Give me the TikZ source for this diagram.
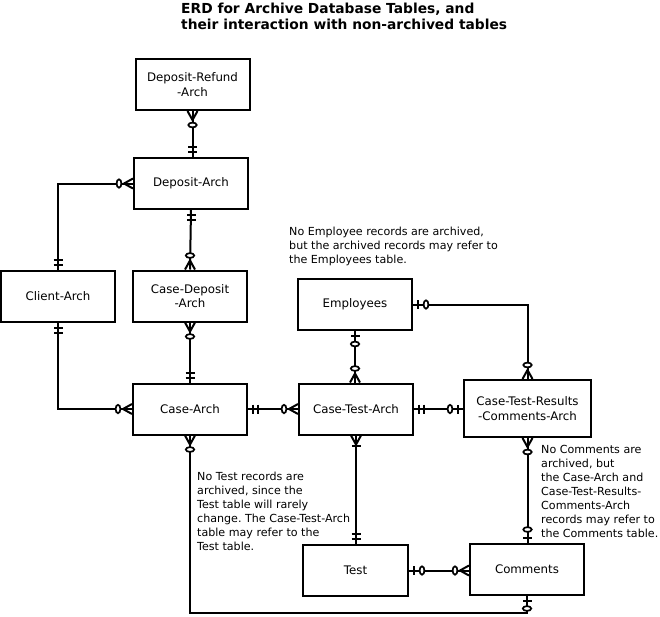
\documentclass[tikz,border=0pt]{standalone}
\usepackage{fontspec}
\setmainfont{DejaVu Sans}
\frenchspacing
\newcommand\erdCrow[2]{\begin{scope}[shift={(#1)},rotate=#2]\draw[conn] (0pt,5pt) -- (9pt,0pt) -- (0pt,-5pt);\end{scope}}
\newcommand\erdCirc[3]{\begin{scope}[shift={(#1)},rotate=#2]\draw[line width=1.7pt,fill=white] (#3pt,0pt) ellipse [x radius=2.4pt, y radius=4.2pt];\end{scope}}
\newcommand\erdBar[3]{\begin{scope}[shift={(#1)},rotate=#2]\draw[conn] (#3pt,4.5pt) -- (#3pt,-4.5pt);\end{scope}}
\newcommand\erdZM[2]{\erdCrow{#1}{#2}\erdCirc{#1}{#2}{14}}
\newcommand\erdOM[2]{\erdCrow{#1}{#2}\erdBar{#1}{#2}{10}}
\newcommand\erdOO[2]{\erdBar{#1}{#2}{5}\erdBar{#1}{#2}{10}}
\newcommand\erdZO[2]{\erdBar{#1}{#2}{5}\erdCirc{#1}{#2}{13}}
\begin{document}
\begin{tikzpicture}[x=1pt,y=-1pt,
  ent/.style={draw, line width=2pt, minimum width=114pt, minimum height=51pt, inner sep=0pt, align=center, font=\fontsize{11.8}{14.5}\selectfont},
  conn/.style={line width=2pt},
  note/.style={anchor=north west, align=left, inner sep=0pt, font=\fontsize{11.1}{14}\selectfont}]
\useasboundingbox (0,0) rectangle (660,616);
\fill[white] (0,0) rectangle (660,616);
\node[anchor=north west, inner sep=0pt, align=left, font=\bfseries\fontsize{13.8}{16}\selectfont] (title) at (181,2.5) {ERD for Archive Database Tables, and\\their interaction with non-archived tables};
% entities
\node[ent] (dra) at (192.5,84.5) {Deposit-Refund\\-Arch};
\node[ent] (da) at (191,183.5) {Deposit-Arch};
\node[ent] (cl) at (58,296) {Client-Arch};
\node[ent] (cda) at (190,296) {Case-Deposit\\-Arch};
\node[ent] (emp) at (355,304.5) {Employees};
\node[ent] (ca) at (190,409) {Case-Arch};
\node[ent] (cta) at (356,409) {Case-Test-Arch};
\node[ent, minimum width=127pt, minimum height=57pt] (ctr) at (527.5,408.5) {Case-Test-Results\\-Comments-Arch};
\node[ent, minimum width=105pt] (test) at (355.5,570.5) {Test};
\node[ent] (com) at (527,569) {Comments};
% notes
\node[note] (n1) at (289,227) {No Employee records are archived,\\but the archived records may refer to\\the Employees table.};
\node[note] (n2) at (197,472) {No Test records are\\archived, since the\\Test table will rarely\\change. The Case-Test-Arch\\table may refer to the\\Test table.};
\node[note] (n3) at (541,445.5) {No Comments are\\archived, but\\the Case-Arch and\\Case-Test-Results-\\Comments-Arch\\records may refer to\\the Comments table.};
% connectors
\coordinate (bot) at (0,613);
\draw[conn] (dra.south) -- (dra.south |- da.north);
\erdZM{dra.south}{-90}\erdOO{dra.south |- da.north}{90}
\draw[conn] (da.west) -| (cl.north);
\erdZM{da.west}{180}\erdOO{cl.north}{90}
\draw[conn] (da.south) -- (cda.north);
\erdOO{da.south}{-90}\erdZM{cda.north}{90}
\draw[conn] (cda.south) -- (ca.north);
\erdZM{cda.south}{-90}\erdOO{ca.north}{90}
\draw[conn] (cl.south) |- (ca.west);
\erdOO{cl.south}{-90}\erdZM{ca.west}{180}
\draw[conn] (ca.east) -- (cta.west);
\erdOO{ca.east}{0}\erdZM{cta.west}{180}
\draw[conn] (emp.south) -- (emp.south |- cta.north);
\erdZO{emp.south}{-90}\erdZM{emp.south |- cta.north}{90}
\draw[conn] (emp.east) -| (ctr.north);
\erdZO{emp.east}{0}\erdZM{ctr.north}{90}
\draw[conn] (cta.east) -- (cta.east -| ctr.west);
\erdOO{cta.east}{0}\erdZO{cta.east -| ctr.west}{180}
\draw[conn] (cta.south) -- (cta.south |- test.north);
\erdOM{cta.south}{-90}\erdOO{cta.south |- test.north}{90}
\draw[conn] (ctr.south) -- (ctr.south |- com.north);
\erdZM{ctr.south}{-90}\erdZO{ctr.south |- com.north}{90}
\draw[conn] (test.east) -- (test.east -| com.west);
\erdZO{test.east}{0}\erdZM{test.east -| com.west}{180}
\draw[conn] (ca.south) -- (ca.south |- bot) -| (com.south);
\erdZM{ca.south}{-90}\erdZO{com.south}{-90}
\end{tikzpicture}
\end{document}
